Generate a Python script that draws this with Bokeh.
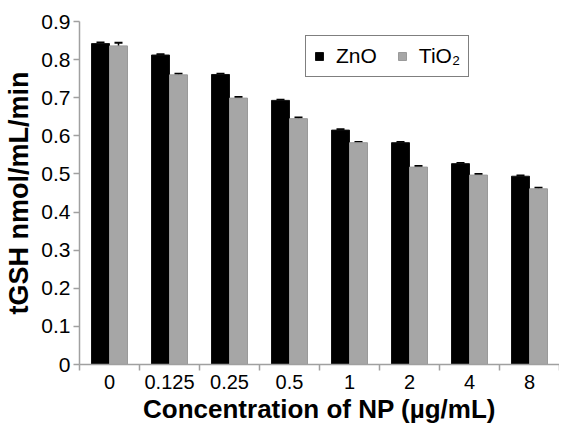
import numpy as np
from bokeh.plotting import figure
from bokeh.models import (ColumnDataSource, Range1d, FixedTicker, Whisker, TeeHead,
                          Legend, LegendItem)
from bokeh.transform import dodge
from bokeh.embed import file_html
from bokeh.resources import INLINE

categories = ["0", "0.125", "0.25", "0.5", "1", "2", "4", "8"]
zno = [0.842, 0.812, 0.761, 0.693, 0.615, 0.582, 0.527, 0.494]
tio2 = [0.836, 0.760, 0.699, 0.645, 0.582, 0.518, 0.497, 0.461]
zno_err = [0.003, 0.002, 0.002, 0.002, 0.002, 0.002, 0.002, 0.002]
tio2_err = [0.008, 0.003, 0.003, 0.003, 0.002, 0.003, 0.003, 0.003]
y_ticks = [0.0, 0.1, 0.2, 0.3, 0.4, 0.5, 0.6, 0.7, 0.8, 0.9]

n = len(categories)
xc = np.arange(n) + 0.5
src = ColumnDataSource(dict(
    x=xc, zno=zno, tio2=tio2,
    zno_up=np.array(zno) + np.array(zno_err), zno_lo=np.array(zno) - np.array(zno_err),
    tio2_up=np.array(tio2) + np.array(tio2_err), tio2_lo=np.array(tio2) - np.array(tio2_err),
))

FONT = "Liberation Sans"
AX = "#a0a0a0"

p = figure(width=559, height=426, output_backend="svg", toolbar_location=None,
           x_range=Range1d(0, n), y_range=Range1d(0, 0.9),
           min_border_left=79, min_border_right=0, min_border_top=21, min_border_bottom=0)
p.outline_line_color = None
p.grid.grid_line_color = None
p.background_fill_color = "white"

bw = 0.3
r1 = p.vbar(x=dodge("x", -bw / 2, range=p.x_range), top="zno", width=bw, source=src,
            fill_color="black", line_color="#111111", line_width=1)
r2 = p.vbar(x=dodge("x", bw / 2, range=p.x_range), top="tio2", width=bw, source=src,
            fill_color="#a6a6a6", line_color="#9a9a9a", line_width=1)

for up, lo, off in (("zno_up", "zno_lo", -bw / 2), ("tio2_up", "tio2_lo", bw / 2)):
    w = Whisker(base=dodge("x", off, range=p.x_range), upper=up, lower=lo, source=src,
                line_color="black", line_width=1.5,
                upper_head=TeeHead(size=8, line_width=2, line_color="black"),
                lower_head=TeeHead(size=8, line_width=2, line_color="black"))
    p.add_layout(w)

# axes
xa = p.xaxis[0]
xa.ticker = FixedTicker(ticks=list(xc), minor_ticks=list(range(n + 1)))
xa.major_label_overrides = {float(v): c for v, c in zip(xc, categories)}
xa.major_tick_line_color = None
xa.major_tick_out = 6
xa.major_tick_in = 0
xa.minor_tick_line_color = AX
xa.minor_tick_out = 6
xa.minor_tick_in = 0
xa.minor_tick_line_width = 1.5
xa.axis_line_color = AX
xa.axis_line_width = 1.5
xa.major_label_text_font = FONT
xa.major_label_text_font_size = "20px"
xa.major_label_text_color = "black"
xa.major_label_standoff = 4
xa.axis_label = "Concentration of NP (µg/mL)"
xa.axis_label_text_font = FONT
xa.axis_label_text_font_style = "bold"
xa.axis_label_text_font_size = "26px"
xa.axis_label_text_color = "black"
xa.axis_label_standoff = 2

ya = p.yaxis[0]
ya.ticker = FixedTicker(ticks=y_ticks)
ya.major_label_overrides = {0.0: "0"}
ya.minor_tick_line_color = None
ya.major_tick_line_color = AX
ya.major_tick_out = 6
ya.major_tick_in = 0
ya.major_tick_line_width = 1.5
ya.axis_line_color = AX
ya.axis_line_width = 1.5
ya.major_label_text_font = FONT
ya.major_label_text_font_size = "21px"
ya.major_label_text_color = "black"
ya.major_label_standoff = 3
ya.axis_label = "tGSH nmol/mL/min"
ya.axis_label_text_font = FONT
ya.axis_label_text_font_style = "bold"
ya.axis_label_text_font_size = "27px"
ya.axis_label_text_color = "black"
ya.axis_label_standoff = 4

legend = Legend(items=[LegendItem(label="ZnO", renderers=[r1]),
                       LegendItem(label="TiO₂", renderers=[r2])],
                orientation="horizontal", location=(226, 287))
legend.glyph_width = 10
legend.glyph_height = 10
legend.label_standoff = 12
legend.spacing = 20
legend.padding = 8
legend.margin = 0
legend.label_text_font = FONT
legend.label_text_font_size = "21px"
legend.label_text_color = "black"
legend.border_line_color = "black"
legend.border_line_width = 1.2
legend.background_fill_alpha = 1
p.add_layout(legend, "center")

open("out.html", "w").write(file_html(p, INLINE))
